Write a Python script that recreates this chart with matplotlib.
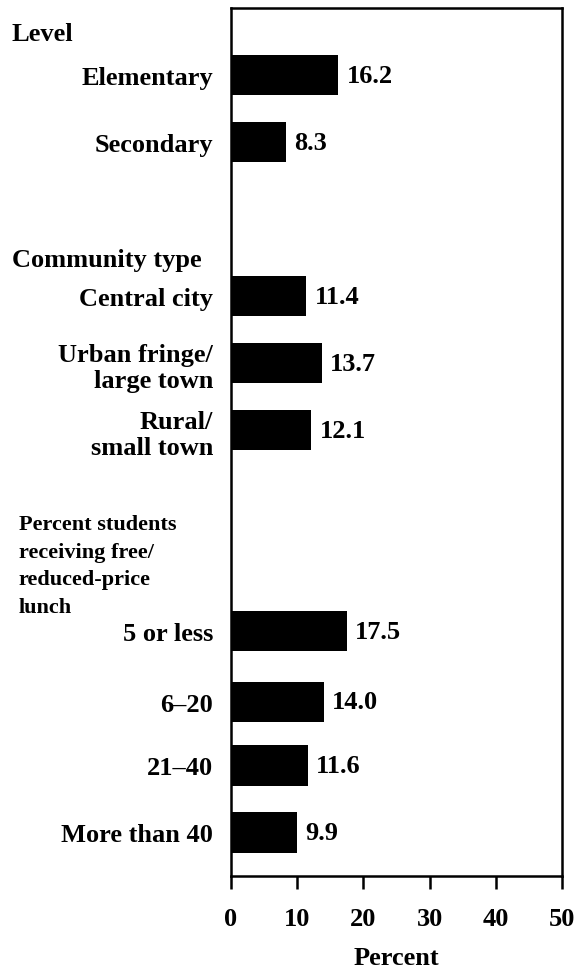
import matplotlib.pyplot as plt

# datos
categorias = ['Elementary', 'Secondary',
              'Central city', 'Urban fringe/\nlarge town', 'Rural/\nsmall town',
              '5 or less', '6\u201320', '21\u201340', 'More than 40']
valores = [16.2, 8.3, 11.4, 13.7, 12.1, 17.5, 14.0, 11.6, 9.9]
grupos = ['Level', 'Community type',
          'Percent students\nreceiving free/\nreduced-price\nlunch']
ticks_x = [0, 10, 20, 30, 40, 50]

# posiciones verticales (en "ranuras", con huecos para los titulos de grupo)
posiciones = [0, 1, 3.3, 4.3, 5.3, 8.3, 9.35, 10.3, 11.3]
pos_grupos = [-0.62, 2.75, 6.55]

plt.rcParams['font.family'] = ['Liberation Serif', 'DejaVu Serif']
plt.rcParams['font.weight'] = 'bold'

W, H = 583, 970
fig = plt.figure(figsize=(W / 100, H / 100), dpi=100)
ax = fig.add_axes([231 / W, 1 - 877 / H, (562 - 231) / W, (877 - 9) / H])

ax.barh(posiciones, valores, height=0.6, color='black')
ax.set_xlim(0, 50)
ax.set_ylim(11.95, -1.0)

for y, v in zip(posiciones, valores):
    ax.annotate(f'{v:.1f}', (v, y), xytext=(6, 0), textcoords='offset points',
                va='center', ha='left', fontsize=19, fontweight='bold')

ax.set_yticks(posiciones, categorias)
ax.tick_params(axis='y', length=0, pad=13, labelsize=19)
ax.set_xticks(ticks_x)
ax.tick_params(axis='x', length=9, width=1.8, pad=13, labelsize=19,
               direction='out')
for s in ax.spines.values():
    s.set_linewidth(1.8)

ax.set_xlabel('Percent', fontsize=19, fontweight='bold', labelpad=12)

# titulos de grupo
x_tit = (12 - 231) / (562 - 231)
for g, y in zip(grupos, pos_grupos):
    multi = '\n' in g
    ax.text(x_tit + (0.02 if multi else 0), y, g,
            transform=ax.get_yaxis_transform(),
            ha='left', va='top' if multi else 'center',
            fontsize=16 if multi else 19, fontweight='bold', linespacing=1.5)

fig.savefig('out.png', dpi=100)
